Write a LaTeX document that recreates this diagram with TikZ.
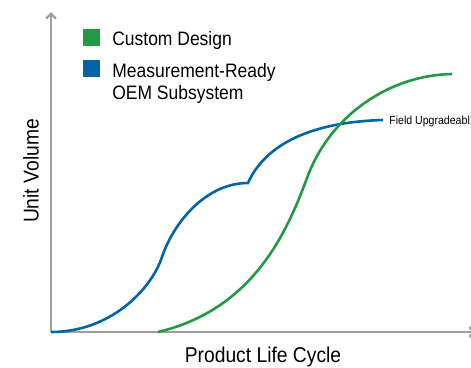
\documentclass[tikz,border=0pt]{standalone}
\usepackage{fontspec}
\setmainfont{Liberation Sans}[FakeStretch=0.9]
\usetikzlibrary{arrows.meta}

\definecolor{cdgreen}{RGB}{34,153,68}
\definecolor{oemblue}{RGB}{0,100,166}
\definecolor{axisgray}{RGB}{158,158,162}

\begin{document}
\begin{tikzpicture}[x = 1bp, y = -1bp, line width = 2.6bp,
		axis/.style = {draw = axisgray, line width = 2.4bp, -{Straight Barb[length = 5bp, width = 10bp]}},
		key/.style = {rectangle, minimum size = 17bp, inner sep = 0pt},
		keytext/.style = {anchor = base west, inner sep = 0pt, align = left, font = \fontsize{19.5}{22}\selectfont},
		axislabel/.style = {inner sep = 0pt, font = \fontsize{21.5}{24}\selectfont}]
		
		\useasboundingbox (0,0) rectangle (471,367);
		
		\coordinate (O) at (51,332);
		\coordinate (Y) at (51,12);
		\coordinate (X) at (476,332);
		
		\draw [axis] (O) -- (Y);
		\draw [axis] (O) -- (X);
		
		\node [axislabel, rotate = 90] (ylab) at (31,171) {Unit Volume};
		\node [axislabel, anchor = base] (xlab) at (263,362) {Product Life Cycle};
		
		\node [key, fill = cdgreen] (kgreen) at (91.5,37) {};
		\node [key, fill = oemblue] (kblue) at (91.5,68.5) {};
		\node [keytext] (tgreen) at (111,45) {Custom Design};
		\node [keytext] (tblue) at (111,99) {Measurement-Ready\\OEM Subsystem};
		
		\coordinate (bstep) at (248,183);
		\coordinate (bend) at (383,120);
		\draw [oemblue, line join = miter] (O) .. controls (110,332) and (151,290) .. (162,257)
			.. controls (173,224) and (205,183) .. (bstep)
			.. controls (265,145) and (310,122) .. (bend);
		
		\coordinate (gstart) at (158,332);
		\coordinate (gend) at (452,74);
		\draw [cdgreen] (gstart) .. controls (250,310) and (285,238) .. (307,178)
			.. controls (330,115) and (390,75) .. (gend);
		
		\node [anchor = base west, inner sep = 0pt, font = \fontsize{11.8}{13}\selectfont] (field) at (388,124) {Field Upgradeabl};
		
		\end{tikzpicture}
\end{document}
